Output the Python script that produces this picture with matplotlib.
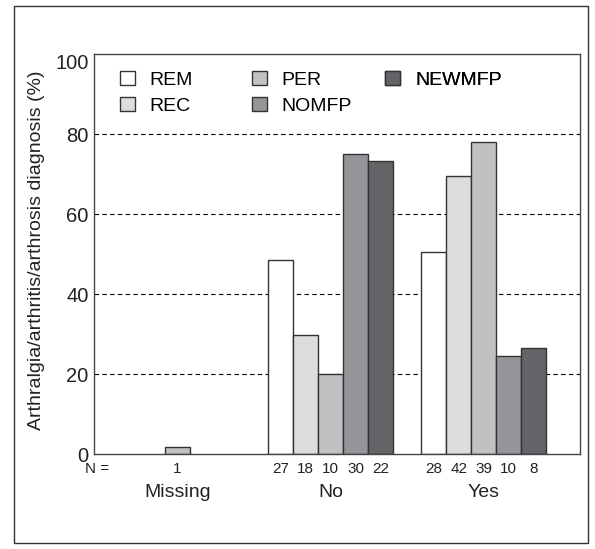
import numpy as np
import matplotlib.pyplot as plt
import matplotlib.patches as mpatches
from matplotlib.transforms import blended_transform_factory

plt.rcParams['font.family'] = ['Liberation Sans', 'DejaVu Sans']

groups = ["Missing", "No", "Yes"]
series = ["REM", "REC", "PER", "NOMFP", "NEWMFP"]
colors = ["#ffffff", "#dcdddf", "#c0c1c3", "#939598", "#636467"]

# % per group for each series (nan = no bar)
values = {
    "REM":    [np.nan, 48.4, 50.6],
    "REC":    [np.nan, 29.8, 69.6],
    "PER":    [1.8, 19.9, 77.9],
    "NOMFP":  [np.nan, 75.1, 24.6],
    "NEWMFP": [np.nan, 73.3, 26.5],
}
counts = {
    "REM":    ["", "27", "28"],
    "REC":    ["", "18", "42"],
    "PER":    ["1", "10", "39"],
    "NOMFP":  ["", "30", "10"],
    "NEWMFP": ["", "22", "8"],
}
# legend columns as laid out in the original
legend_cols = [["REM", "REC"], ["PER", "NOMFP"], ["NEWMFP"]]

fig = plt.figure(figsize=(5.95, 5.49), dpi=100)
ax = fig.add_axes([0.158, 0.173, 0.817, 0.7286])

x = np.arange(len(groups))
w = 0.163
offsets = (np.arange(len(series)) - 2) * w

for yv in [20, 40, 60, 80]:
    ax.axhline(yv, color='black', linestyle=(0, (4, 3)), linewidth=0.8, zorder=0)

trans = blended_transform_factory(ax.transData, ax.transAxes)
patch = {}
for i, s in enumerate(series):
    ax.bar(x + offsets[i], values[s], width=w, color=colors[i],
           edgecolor='#333333', linewidth=1.0, zorder=2)
    patch[s] = mpatches.Patch(facecolor=colors[i], edgecolor='#333333', label=s)
    for j in range(len(groups)):
        if counts[s][j]:
            ax.text(x[j] + offsets[i], -0.037, counts[s][j], transform=trans,
                    ha='center', va='center', fontsize=11, color='#222222')

for j, g in enumerate(groups):
    ax.text(x[j], -0.097, g, transform=trans, ha='center', va='center',
            fontsize=14, color='#222222')
ax.text(0.006, -0.037, "N =", transform=ax.transAxes, ha='center', va='center',
        fontsize=11, color='#222222')

ax.set_xlim(-0.546, 2.63)
ax.set_ylim(0, 100)
ax.set_xticks([])
ax.set_yticks([0, 20, 40, 60, 80, 100])
ax.tick_params(axis='y', length=0, labelsize=14.5, pad=4, labelcolor='#222222')
ax.get_yticklabels()[-1].set_verticalalignment('top')
ax.set_ylabel("Arthralgia/arthritis/arthrosis diagnosis (%)", fontsize=14, color='#222222')
ax.yaxis.set_label_coords(-0.10, 0.51)
for sp in ax.spines.values():
    sp.set_color('#444444')
    sp.set_linewidth(1.0)

col_x = [0.053, 0.325, 0.599]
for k, names in enumerate(legend_cols):
    leg = ax.legend(handles=[patch[n] for n in names], loc='upper left',
                    bbox_to_anchor=(col_x[k], 0.958), frameon=False, fontsize=14,
                    handlelength=0.78, handleheight=0.78, handletextpad=0.75,
                    labelspacing=0.4, borderpad=0, borderaxespad=0)
    ax.add_artist(leg)

fig.patches.append(mpatches.Rectangle((14 / 595, 6 / 549), 574 / 595, 537 / 549,
                                      transform=fig.transFigure, fill=False,
                                      edgecolor='#333333', linewidth=1.0))

fig.savefig("out.png", dpi=100)
